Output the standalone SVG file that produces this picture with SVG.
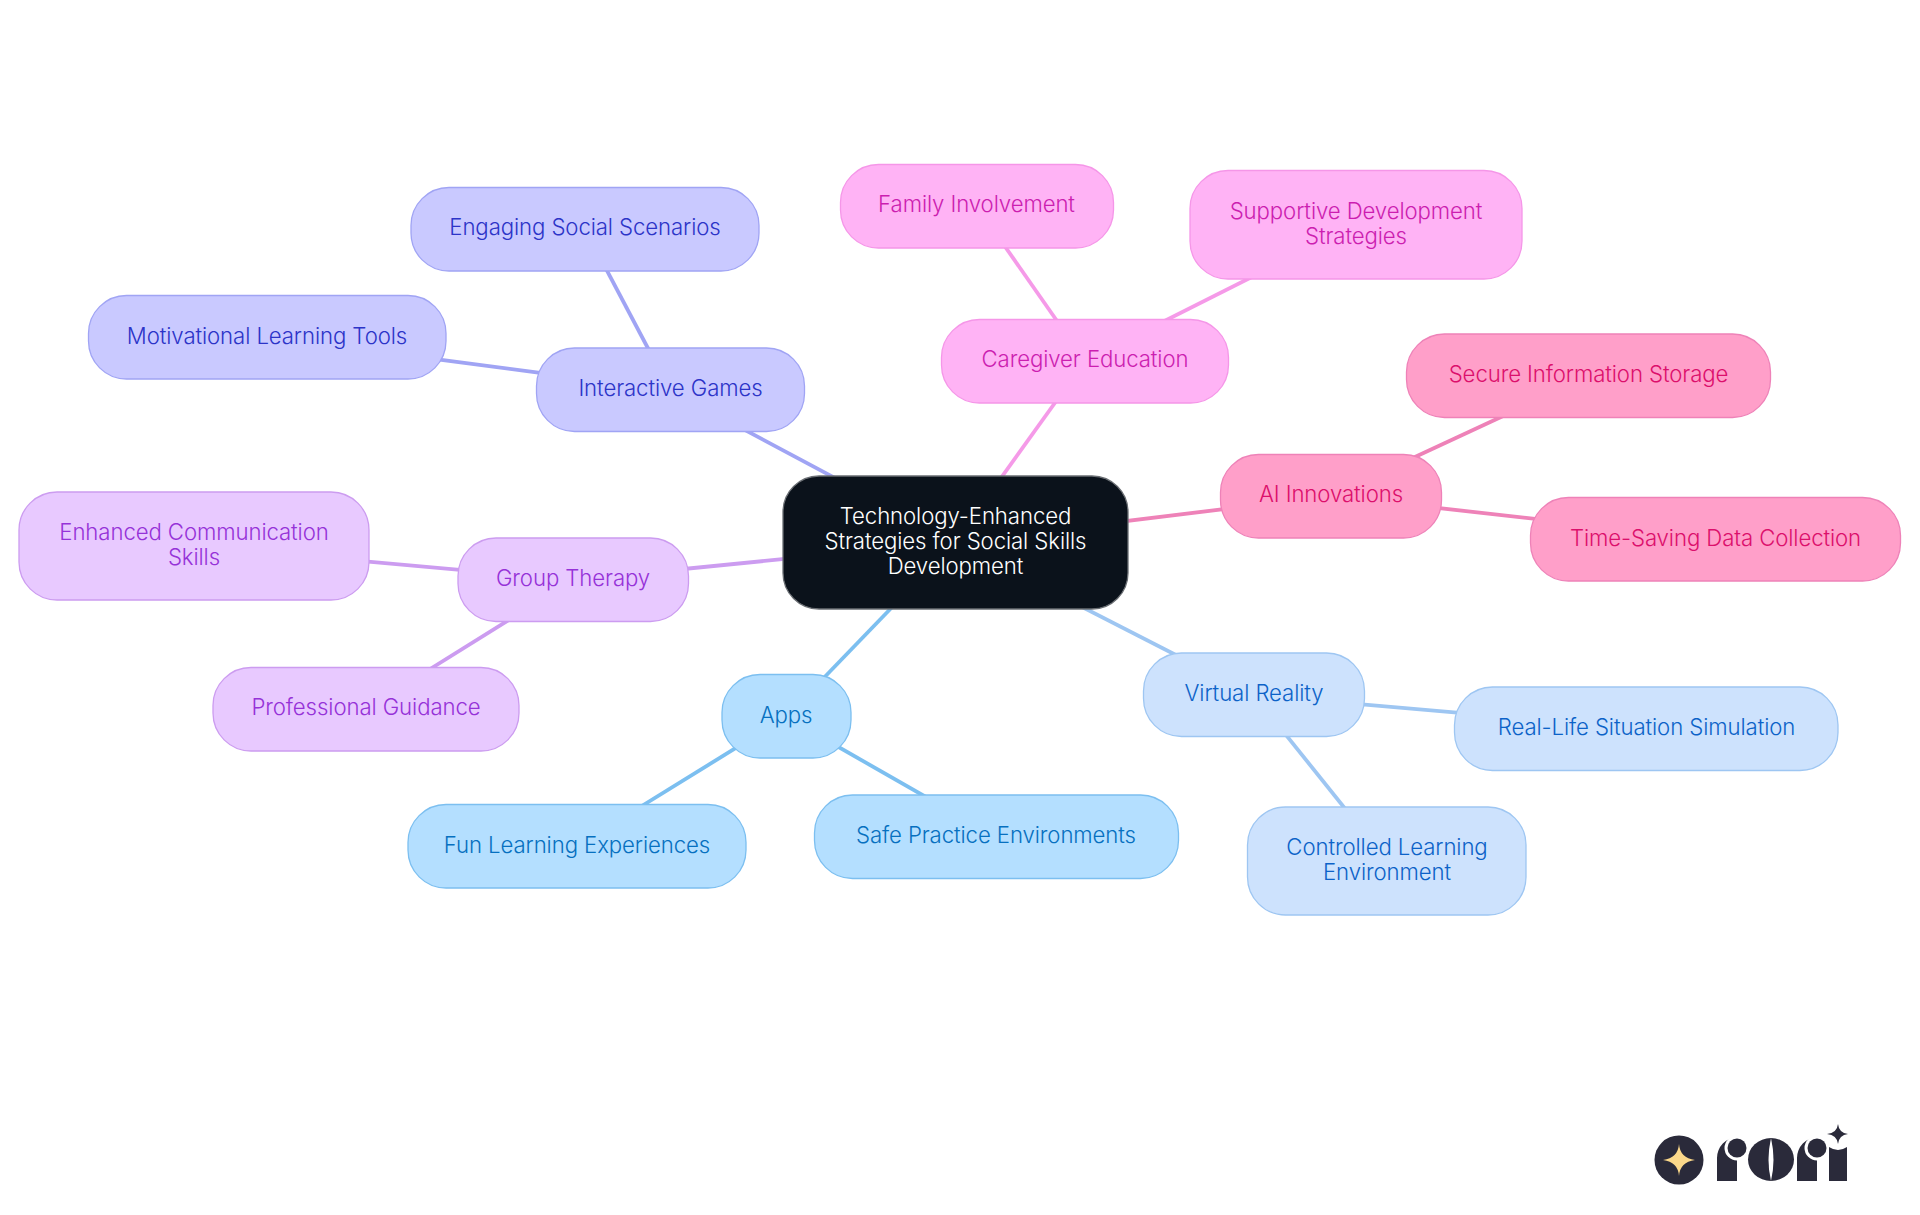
<svg xmlns="http://www.w3.org/2000/svg" width="1920" height="1215" viewBox="0 0 1920 1215">
<style>
text{font-family:Inter,"Noto Sans","Liberation Sans",sans-serif;font-size:22.2px;font-weight:350;letter-spacing:-.1px;text-anchor:middle}
rect{stroke-width:1.3}
.l{fill:none;stroke-width:3.8}
.root rect{fill:#0b121b;stroke:#6a6e73;rx:36px}.root text{fill:#fff}
.g rect{fill:#c9c9ff;stroke:#a0a4f4;rx:38px}.g text{fill:#2c34c8}.gl{stroke:#a0a4f4}
.c rect{fill:#ffb3f5;stroke:#f596e8;rx:38px}.c text{fill:#cc1eb0}.cl{stroke:#f59ae8}
.a rect{fill:#ff9fc9;stroke:#ee82b8;rx:38px}.a text{fill:#dc0f6c}.al{stroke:#ee82b8}
.v rect{fill:#cde2fd;stroke:#9ec6f2;rx:38px}.v text{fill:#0c62c8}.vl{stroke:#9ec6f2}
.p rect{fill:#b4dfff;stroke:#7cbff0;rx:38px}.p text{fill:#0670c0}.pl{stroke:#7cbff0}
.t rect{fill:#e8c9ff;stroke:#cc9cf0;rx:38px}.t text{fill:#9632d8}.tl{stroke:#cc9cf0}
.lg{fill:#2a2a3a}
</style>
<g id="connectors">
<path class="l gl" d="M955 542L670 390"/><path class="l gl" d="M670 390L585 229"/><path class="l gl" d="M670 390L267 337"/>
<path class="l cl" d="M955 542L1085 361"/><path class="l cl" d="M1085 361L976 205"/><path class="l cl" d="M1085 361L1355 225"/>
<path class="l al" d="M955 542L1331 496"/><path class="l al" d="M1331 496L1589 376"/><path class="l al" d="M1331 496L1715 539"/>
<path class="l vl" d="M955 542L1254 695"/><path class="l vl" d="M1254 695L1646 729"/><path class="l vl" d="M1254 695L1387 861"/>
<path class="l pl" d="M955 542L786 717"/><path class="l pl" d="M786 717L577 846"/><path class="l pl" d="M786 717L996 837"/>
<path class="l tl" d="M955 542L573 580"/><path class="l tl" d="M573 580L194 546"/><path class="l tl" d="M573 580L366 709"/>
</g>
<g id="root" class="root"><rect x="783" y="476" width="345" height="133"/><text x="955.500" y="524">Technology-Enhanced</text><text x="955.500" y="549">Strategies for Social Skills</text><text x="955.500" y="574">Development</text></g>
<g id="interactive-games" class="g"><rect x="536.500" y="348" width="268" height="83.500"/><text x="670.500" y="396">Interactive Games</text></g>
<g id="engaging" class="g"><rect x="411" y="187.500" width="348" height="83.500"/><text x="585" y="235">Engaging Social Scenarios</text></g>
<g id="motivational" class="g"><rect x="88.500" y="295.500" width="357.500" height="83.500"/><text x="267" y="344">Motivational Learning Tools</text></g>
<g id="caregiver" class="c"><rect x="941.500" y="319.500" width="287" height="83.500"/><text x="1085" y="367">Caregiver Education</text></g>
<g id="family" class="c"><rect x="840.500" y="164.500" width="273" height="83.500"/><text x="976.500" y="212">Family Involvement</text></g>
<g id="supportive" class="c"><rect x="1190" y="170.500" width="332" height="108.500"/><text x="1356" y="219">Supportive Development</text><text x="1356" y="244">Strategies</text></g>
<g id="ai" class="a"><rect x="1220.500" y="454.500" width="221" height="83.500"/><text x="1331" y="502">AI Innovations</text></g>
<g id="secure" class="a"><rect x="1406.500" y="334" width="364" height="83.500"/><text x="1588.500" y="382">Secure Information Storage</text></g>
<g id="time" class="a"><rect x="1530.500" y="497.500" width="370" height="83.500"/><text x="1715.500" y="546">Time-Saving Data Collection</text></g>
<g id="virtual" class="v"><rect x="1143.500" y="653" width="221" height="83.500"/><text x="1254" y="701">Virtual Reality</text></g>
<g id="real" class="v"><rect x="1454.500" y="687" width="383.500" height="83.500"/><text x="1646.500" y="735">Real-Life Situation Simulation</text></g>
<g id="controlled" class="v"><rect x="1247.500" y="807" width="278.500" height="108"/><text x="1387" y="855">Controlled Learning</text><text x="1387" y="880">Environment</text></g>
<g id="apps" class="p"><rect x="722" y="674.500" width="129" height="83.500"/><text x="786" y="723">Apps</text></g>
<g id="fun" class="p"><rect x="408" y="804.500" width="338" height="83.500"/><text x="577" y="853">Fun Learning Experiences</text></g>
<g id="safe" class="p"><rect x="814.500" y="795" width="364" height="83.500"/><text x="996" y="843">Safe Practice Environments</text></g>
<g id="group-therapy" class="t"><rect x="458" y="538" width="230.500" height="83.500"/><text x="573" y="586">Group Therapy</text></g>
<g id="enhanced" class="t"><rect x="19" y="492" width="350" height="108"/><text x="194" y="540">Enhanced Communication</text><text x="194" y="565">Skills</text></g>
<g id="professional" class="t"><rect x="213" y="667.500" width="306" height="83.500"/><text x="366" y="715">Professional Guidance</text></g>
<g id="logo">
<circle class="lg" cx="1679" cy="1160" r="24.500"/>
<path d="M1679 1144Q1680 1158 1695 1160Q1680 1162 1679 1176Q1678 1162 1663 1160Q1678 1158 1679 1144Z" fill="#fbd88a"/>
<path class="lg" d="M1717 1181V1158A21 21 0 0 1 1737 1137V1181Z"/><circle cx="1737" cy="1148" r="12.500" fill="#fff"/><circle class="lg" cx="1737" cy="1148" r="9.500"/>
<ellipse class="lg" cx="1771" cy="1159.500" rx="23" ry="21.500"/><path d="M1771 1138Q1766 1160 1771 1181Q1776 1160 1771 1138Z" fill="#fff"/>
<path class="lg" d="M1797 1181V1158A21 21 0 0 1 1817 1137V1181Z"/><circle cx="1817" cy="1148" r="12.500" fill="#fff"/><circle class="lg" cx="1817" cy="1148" r="9.500"/>
<path class="lg" d="M1829 1181V1147Q1838 1153 1847 1147V1181Z"/>
<path class="lg" d="M1838 1124Q1839 1133 1848 1134Q1839 1135 1838 1144Q1837 1135 1827 1134Q1837 1133 1838 1124Z"/>
</g>
</svg>
